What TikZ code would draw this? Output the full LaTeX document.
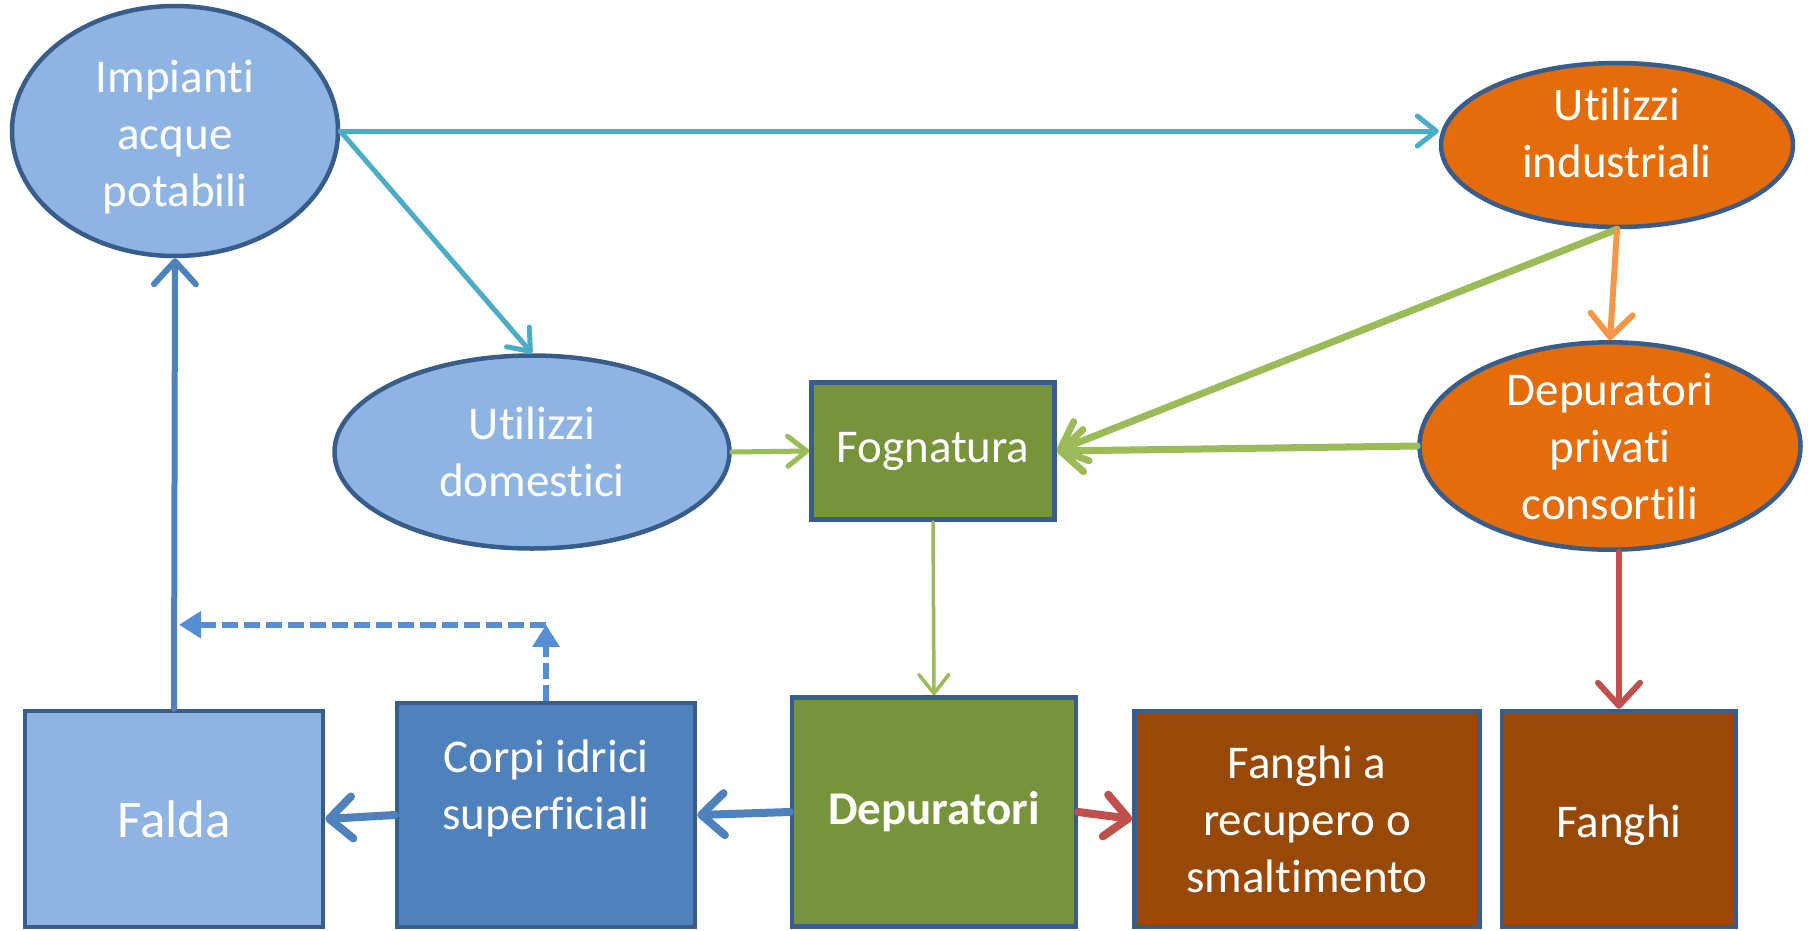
\documentclass[tikz,border=0pt]{standalone}
\usepackage{fontspec}
\setmainfont{Carlito}[Ligatures=NoCommon]
\usetikzlibrary{shapes.geometric,arrows.meta}
\definecolor{edgeblue}{HTML}{385D8A}
\definecolor{skyblue}{HTML}{8EB4E3}
\definecolor{midblue}{HTML}{4F81BD}
\definecolor{dashblue}{HTML}{558ED5}
\definecolor{aqua}{HTML}{4BACC6}
\definecolor{leafgreen}{HTML}{9BBB59}
\definecolor{mossgreen}{HTML}{77933C}
\definecolor{burnt}{HTML}{E46C0A}
\definecolor{paleorange}{HTML}{F79646}
\definecolor{brick}{HTML}{C0504D}
\definecolor{rust}{HTML}{984807}
\tikzset{
  blob/.style={ellipse, draw=edgeblue, line width=4.5pt, text=white, align=center,
    inner sep=0pt, font=\fontsize{47}{57}\selectfont},
  tank/.style={rectangle, draw=edgeblue, line width=4.5pt, text=white, align=center,
    inner sep=0pt, font=\fontsize{47}{57}\selectfont},
  flow/.style={line width=#1, line cap=round,
    -{Straight Barb[length=19pt,width=30pt,line cap=round,line join=round]}},
  bigflow/.style={line width=#1, line cap=round,
    -{Straight Barb[length=23pt,width=42pt,line cap=round,line join=round]}},
  backflow/.style={draw=dashblue, line width=6pt, dash pattern=on 16pt off 6pt,
    -{Triangle[length=22pt,width=26pt]}},
}
\begin{document}
\begin{tikzpicture}[x=1pt,y=-1pt]
  \useasboundingbox[fill=white] (0,0) rectangle (1810,930);
  % upper ellipses
  \node[blob, fill=skyblue, minimum width=326pt, minimum height=250pt, text height=158pt] (imp) at (175,131) {Impianti\\acque\\potabili};
  \node[blob, fill=burnt, minimum width=352pt, minimum height=164pt, text depth=24pt] (ind) at (1617,145) {Utilizzi\\industriali};
  \node[blob, fill=skyblue, minimum width=395pt, minimum height=193pt] (dom) at (532,452) {Utilizzi\\domestici};
  \node[tank, fill=mossgreen, minimum width=243pt, minimum height=137pt] (fog) at (933,451) {Fognatura};
  \node[blob, fill=burnt, minimum width=381pt, minimum height=194pt] (priv) at (1610,446) {Depuratori\\privati\\consortili};
  % bottom boxes
  \node[tank, fill=skyblue, minimum width=298pt, minimum height=216pt, font=\fontsize{53}{60}\selectfont] (falda) at (174,819) {Falda};
  \node[tank, fill=midblue, minimum width=298pt, minimum height=224pt, text depth=60pt] (corpi) at (546,815) {Corpi idrici\\superficiali};
  \node[tank, fill=mossgreen, minimum width=284pt, minimum height=229pt] (dep) at (934,812) {\bfseries Depuratori};
  \node[tank, fill=rust, minimum width=345pt, minimum height=216pt] (fangrec) at (1307,819) {Fanghi a\\recupero o\\smaltimento};
  \node[tank, fill=rust, minimum width=234pt, minimum height=216pt, text height=45pt] (fanghi) at (1619,819) {Fanghi};
  % connectors
  \draw[flow=5pt, aqua] (imp.east) -- (imp.east -| ind.west);
  \draw[flow=5pt, aqua] (imp.east) -- (dom.north);
  \draw[bigflow=6pt, midblue] (falda.north) -- (imp.south);
  \coordinate (turn) at ([yshift=76pt]corpi.north);
  \draw[backflow] (corpi.north) -- (turn);
  \draw[backflow] (turn) -- ([xshift=5pt]falda.north |- turn);
  \draw[flow=5pt, leafgreen] (dom.east) -- (fog.west);
  \draw[bigflow=7pt, leafgreen] (ind.south) -- (fog.east);
  \draw[bigflow=7pt, leafgreen] (priv.west) -- (fog.east);
  \draw[bigflow=6pt, paleorange] (ind.south) -- (priv.north);
  \draw[flow=3.5pt, leafgreen] (fog.south) -- (dep.north);
  \draw[bigflow=6pt, brick] (fanghi.north |- priv.south) -- (fanghi.north);
  \draw[bigflow=8pt, midblue] (dep.west) -- (corpi.east);
  \draw[bigflow=8pt, midblue] (corpi.west) -- (falda.east);
  \draw[bigflow=8pt, brick] (dep.east) -- (fangrec.west);
\end{tikzpicture}
\end{document}
